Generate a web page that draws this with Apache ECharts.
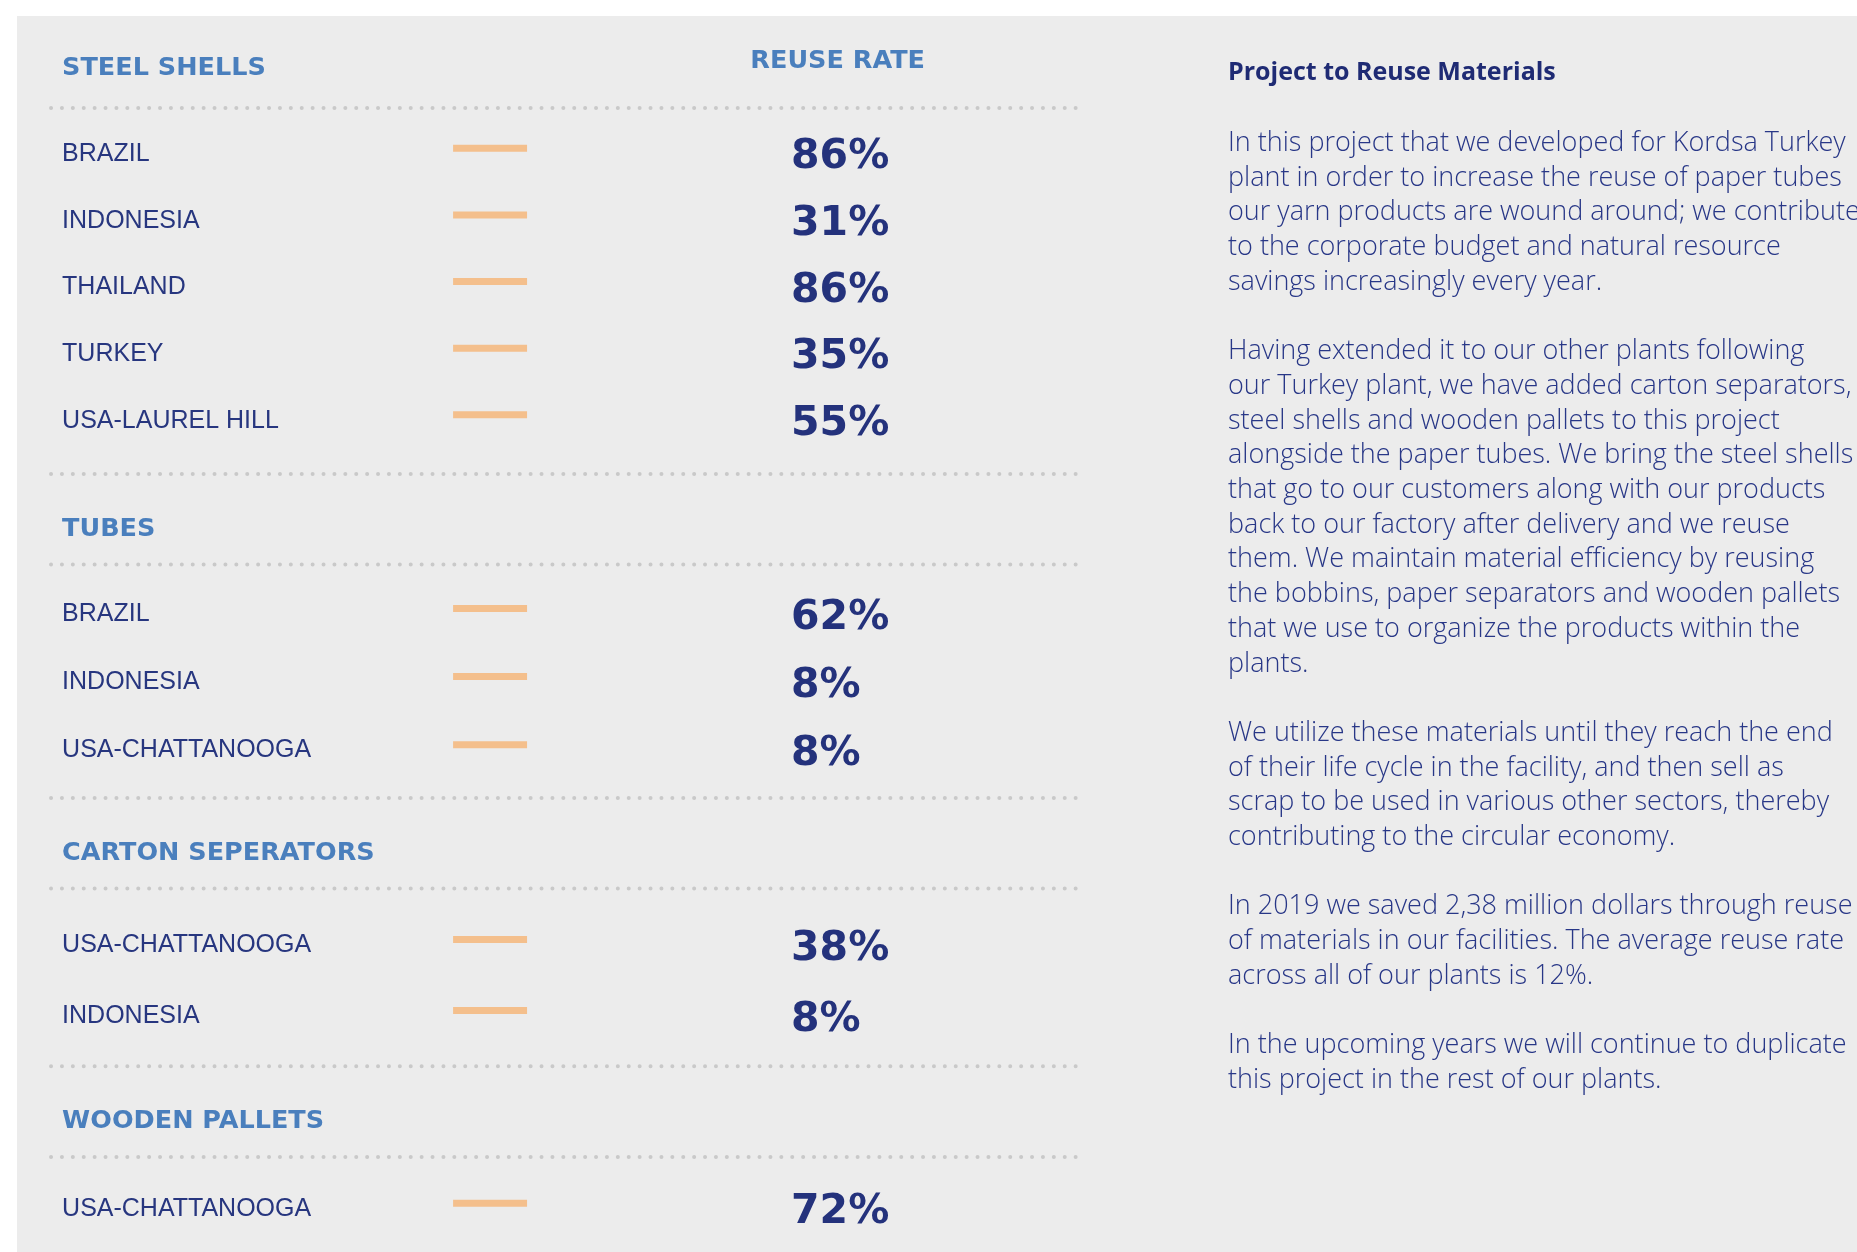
<!DOCTYPE html>
<html>
<head>
<meta charset="utf-8">
<script src="https://cdn.jsdelivr.net/npm/echarts@6/dist/echarts.min.js"></script>
<style>
  html, body { margin: 0; padding: 0; background: #ffffff; overflow: hidden; width: 1857px; height: 1252px; }
  #chart { position: absolute; left: 17px; top: 16px; width: 1840px; height: 1236px; background: #ececec; }
</style>
</head>
<body>
<div id="chart"></div>
<script>
// ---------------- DATA ----------------
const groupNames = ['STEEL SHELLS', 'TUBES', 'CARTON SEPERATORS', 'WOODEN PALLETS'];
const steelSites = ['BRAZIL', 'INDONESIA', 'THAILAND', 'TURKEY', 'USA-LAUREL HILL'];
const steelRates = [86, 31, 86, 35, 55];
const tubeSites = ['BRAZIL', 'INDONESIA', 'USA-CHATTANOOGA'];
const tubeRates = [62, 8, 8];
const cartonSites = ['USA-CHATTANOOGA', 'INDONESIA'];
const cartonRates = [38, 8];
const palletSites = ['USA-CHATTANOOGA'];
const palletRates = [72];
const columnTitle = 'REUSE RATE';

const panelTitle = 'Project to Reuse Materials';
const paragraph1 = [
  'In this project that we developed for Kordsa Turkey',
  'plant in order to increase the reuse of paper tubes',
  'our yarn products are wound around; we contribute',
  'to the corporate budget and natural resource',
  'savings increasingly every year.'
];
const paragraph2 = [
  'Having extended it to our other plants following',
  'our Turkey plant, we have added carton separators,',
  'steel shells and wooden pallets to this project',
  'alongside the paper tubes. We bring the steel shells',
  'that go to our customers along with our products',
  'back to our factory after delivery and we reuse',
  'them. We maintain material efficiency by reusing',
  'the bobbins, paper separators and wooden pallets',
  'that we use to organize the products within the',
  'plants.'
];
const paragraph3 = [
  'We utilize these materials until they reach the end',
  'of their life cycle in the facility, and then sell as',
  'scrap to be used in various other sectors, thereby',
  'contributing to the circular economy.'
];
const paragraph4 = [
  'In 2019 we saved 2,38 million dollars through reuse',
  'of materials in our facilities. The average reuse rate',
  'across all of our plants is 12%.'
];
const paragraph5 = [
  'In the upcoming years we will continue to duplicate',
  'this project in the rest of our plants.'
];

// ---------------- LAYOUT (row units / column units) ----------------
const groupSites = [steelSites, tubeSites, cartonSites, palletSites];
const groupRates = [steelRates, tubeRates, cartonRates, palletRates];
// per-group block spacing (line->first row, row step, last row->line), in row units
const GROUP_SPACING = [
  { pad0: 0.650, step: 0.988, pad1: 0.826 },
  { pad0: 0.703, step: 1.010, pad1: 0.738 },
  { pad0: 0.808, step: 1.054, pad1: 0.773 },
  { pad0: 0.738, step: 1.000, pad1: 0.800 }
];
const FIRST_HEAD = -0.645, LINE_TO_HEAD = 0.77, HEAD_TO_LINE = 0.575;
const COL_LABEL = 2.45, DASH_X0 = 23.7, DASH_X1 = 27.72, COL_VALUE = 42.07, COL_HEAD_CENTER = 44.6, LINE_X0 = 1.85, LINE_X1 = 57.8;

const rows = [], heads = [], lines = [];
let cursor = 0;
groupNames.forEach(function (g, gi) {
  const sp = GROUP_SPACING[gi];
  if (gi === 0) {
    heads.push({ y: FIRST_HEAD, name: g, first: true });
  } else {
    cursor += LINE_TO_HEAD;
    heads.push({ y: cursor, name: g });
    cursor += HEAD_TO_LINE;
  }
  lines.push(cursor);
  cursor += sp.pad0;
  groupSites[gi].forEach(function (s, i) {
    if (i > 0) cursor += sp.step;
    rows.push({ y: cursor, name: s, value: groupRates[gi][i] });
  });
  cursor += sp.pad1;
  lines.push(cursor);
});

const C_HEAD = '#4a7fbd', C_LABEL = '#27367f', C_VALUE = '#24327c', C_DASH = '#f4bf8c', C_DOT = '#c9c9c9';

const chart = echarts.init(document.getElementById('chart'), null, { renderer: 'canvas' });
chart.setOption({
  backgroundColor: '#ececec',
  animation: false,
  title: {
    left: 1211, top: 44, padding: 0, itemGap: 40,
    text: panelTitle,
    subtext: [paragraph1, paragraph2, paragraph3, paragraph4, paragraph5].map(function (p) { return p.join('\n'); }).join('\n\n'),
    textStyle: { fontFamily: 'Open Sans', fontWeight: 'bold', fontSize: 25, lineHeight: 26, color: '#1f2b74' },
    subtextStyle: { fontFamily: 'Open Sans', fontWeight: 300, fontSize: 27, lineHeight: 34.7, color: '#283787' }
  },
  grid: { left: 0, right: 0, top: 0, bottom: 0 },
  xAxis: { type: 'value', min: 0, max: 100, show: false },
  yAxis: { type: 'value', inverse: true, min: -1.365, max: 16.97, show: false },
  series: [
    {
      type: 'custom',
      name: 'separators',
      clip: true,
      data: lines.map(function (y) { return [LINE_X0, y]; }),
      renderItem: function (params, api) {
        const y = api.value(1);
        const a = api.coord([LINE_X0, y]), b = api.coord([LINE_X1, y]);
        return {
          type: 'line',
          shape: { x1: a[0], y1: a[1], x2: b[0], y2: b[1] },
          style: { stroke: C_DOT, lineWidth: 4, lineDash: [0, 10.9], lineCap: 'round' }
        };
      }
    },
    {
      type: 'custom',
      name: 'headings',
      data: heads.map(function (h) { return [COL_LABEL, h.y]; }),
      renderItem: function (params, api) {
        const h = heads[params.dataIndex];
        const p = api.coord([COL_LABEL, h.y]);
        const children = [{
          type: 'text',
          style: { text: h.name, x: p[0], y: p[1] + 3.5, align: 'left', verticalAlign: 'middle',
                   font: 'bold 25.5px "DejaVu Sans"', fill: C_HEAD }
        }];
        if (h.first) {
          const q = api.coord([COL_HEAD_CENTER, h.y]);
          children.push({
            type: 'text',
            style: { text: columnTitle, x: q[0], y: q[1] - 3.5, align: 'center', verticalAlign: 'middle',
                     font: 'bold 25.5px "DejaVu Sans"', fill: C_HEAD }
          });
        }
        return { type: 'group', children: children };
      }
    },
    {
      type: 'custom',
      name: 'rates',
      data: rows.map(function (r) { return [COL_LABEL, r.y]; }),
      renderItem: function (params, api) {
        const r = rows[params.dataIndex];
        const pl = api.coord([COL_LABEL, r.y]);
        const d0 = api.coord([DASH_X0, r.y]);
        const d1 = api.coord([DASH_X1, r.y]);
        const pv = api.coord([COL_VALUE, r.y]);
        return {
          type: 'group',
          children: [
            { type: 'text', style: { text: r.name, x: pl[0], y: pl[1] + 2.4, align: 'left', verticalAlign: 'middle',
                                     font: '25px "Liberation Sans"', fill: C_LABEL } },
            { type: 'rect', shape: { x: d0[0], y: d0[1] - 7, width: d1[0] - d0[0], height: 7 }, style: { fill: C_DASH } },
            { type: 'text', style: { text: r.value + '%', x: pv[0], y: pv[1] + 6, align: 'left', verticalAlign: 'middle',
                                     font: 'bold 41px "DejaVu Sans"', fill: C_VALUE } }
          ]
        };
      }
    }
  ]
});
</script>
</body>
</html>
